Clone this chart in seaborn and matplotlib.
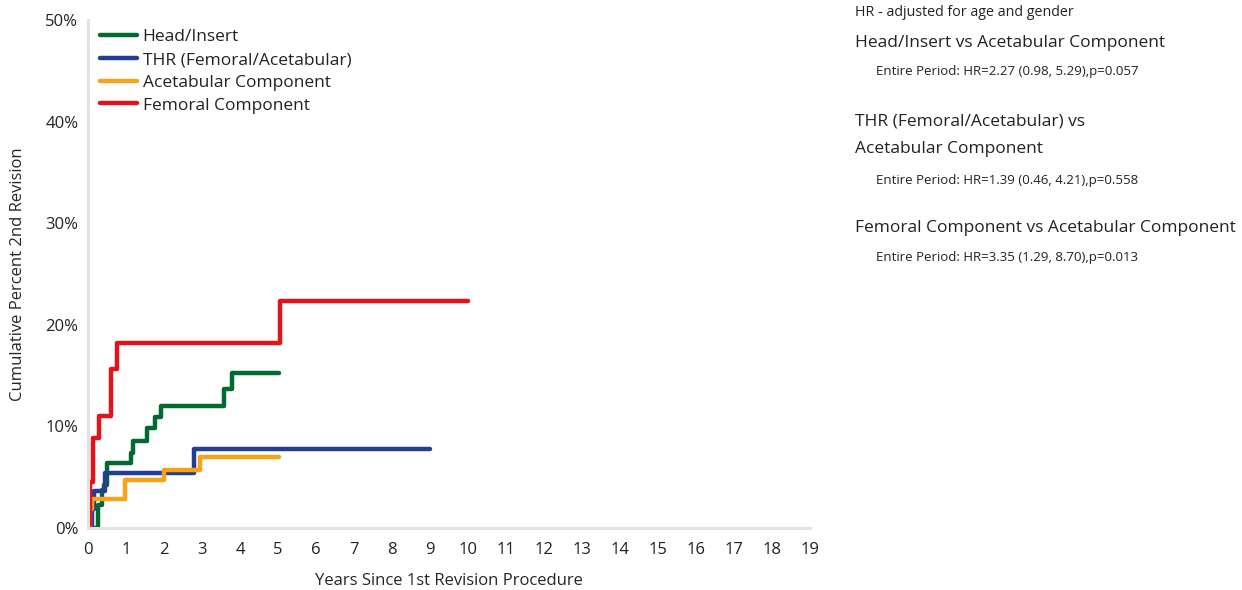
import pandas as pd
import matplotlib
matplotlib.use("Agg")
import matplotlib.pyplot as plt
import seaborn as sns

# step curves (years, cumulative %)
head_years = [0, 0.18, 0.25, 0.36, 0.42, 0.49, 1.12, 1.19, 1.55, 1.77, 1.91, 3.58, 3.80, 5.03]
head_pct = [0, 0, 2.3, 3.7, 4.2, 6.4, 7.35, 8.6, 9.8, 10.96, 12.0, 13.7, 15.3, 15.3]

thr_years = [0, 0.10, 0.16, 0.45, 2.78, 9.0]
thr_pct = [0, 1.9, 3.6, 5.4, 7.75, 7.75]

acet_years = [0, 0.05, 0.10, 0.97, 2.0, 2.95, 5.03]
acet_pct = [0, 1.9, 2.85, 4.7, 5.7, 6.95, 6.95]

fem_years = [0, 0.05, 0.14, 0.30, 0.60, 0.75, 5.06, 10.0]
fem_pct = [0.3, 4.5, 8.9, 11.05, 15.7, 18.2, 22.3, 22.3]

groups = ['Head/Insert', 'THR (Femoral/Acetabular)', 'Acetabular Component', 'Femoral Component']
colors = ['#006a30', '#233e92', '#f7a21b', '#e3121b']

hr_header = 'HR - adjusted for age and gender'
comparisons = ['Head/Insert vs Acetabular Component',
               'THR (Femoral/Acetabular) vs\nAcetabular Component',
               'Femoral Component vs Acetabular Component']
hr_results = ['Entire Period: HR=2.27 (0.98, 5.29),p=0.057',
              'Entire Period: HR=1.39 (0.46, 4.21),p=0.558',
              'Entire Period: HR=3.35 (1.29, 8.70),p=0.013']

df = pd.concat([
    pd.DataFrame({'Years': head_years, 'Pct': head_pct, 'Group': groups[0]}),
    pd.DataFrame({'Years': thr_years, 'Pct': thr_pct, 'Group': groups[1]}),
    pd.DataFrame({'Years': acet_years, 'Pct': acet_pct, 'Group': groups[2]}),
    pd.DataFrame({'Years': fem_years, 'Pct': fem_pct, 'Group': groups[3]}),
], ignore_index=True)

sns.set_style('white')
plt.rcParams['font.family'] = ['Open Sans', 'DejaVu Sans']
plt.rcParams['text.color'] = '#222222'

fig = plt.figure(figsize=(12.42, 5.9), dpi=100)
ax = fig.add_axes([0.0709, 0.105, 0.581, 0.861])

sns.lineplot(data=df, x='Years', y='Pct', hue='Group', hue_order=groups,
             palette=colors, drawstyle='steps-post', linewidth=3.2,
             estimator=None, sort=False, ax=ax)

ax.set_xlim(0, 19)
ax.set_ylim(0, 50)
ax.set_xticks(range(0, 20))
ax.set_yticks(range(0, 51, 10))
ax.set_yticklabels([f'{v}%' for v in range(0, 51, 10)])
ax.tick_params(axis='both', labelsize=12, colors='#e0e0e0', labelcolor='#222222',
               length=4, width=1, direction='out', pad=6)
ax.tick_params(axis='y', pad=3)
for side in ['top', 'right']:
    ax.spines[side].set_visible(False)
for side in ['left', 'bottom']:
    ax.spines[side].set_color('#e2e2e2')
    ax.spines[side].set_linewidth(2.2)
ax.set_xlabel('Years Since 1st Revision Procedure', fontsize=12, labelpad=11)
ax.set_ylabel('Cumulative Percent 2nd Revision', fontsize=12, labelpad=14)

leg = ax.legend(loc='upper left', bbox_to_anchor=(0.0, 1.006), frameon=False,
                fontsize=12.5, handlelength=2.1, handletextpad=0.35,
                labelspacing=0.38, borderaxespad=0.3)
for line in leg.get_lines():
    line.set_linewidth(3.2)

fig.text(855 / 1242, 1 - 13 / 590, hr_header, fontsize=10.3, va='center')
fig.text(855 / 1242, 1 - 43 / 590, comparisons[0], fontsize=12.5, va='center')
fig.text(876 / 1242, 1 - 72 / 590, hr_results[0], fontsize=9.5, va='center')
fig.text(855 / 1242, 1 - 135 / 590, comparisons[1], fontsize=12.5, va='center',
         linespacing=2.0)
fig.text(876 / 1242, 1 - 180 / 590, hr_results[1], fontsize=9.5, va='center')
fig.text(855 / 1242, 1 - 228 / 590, comparisons[2], fontsize=12.5, va='center')
fig.text(876 / 1242, 1 - 257 / 590, hr_results[2], fontsize=9.5, va='center')

fig.savefig('out.png', dpi=100)
